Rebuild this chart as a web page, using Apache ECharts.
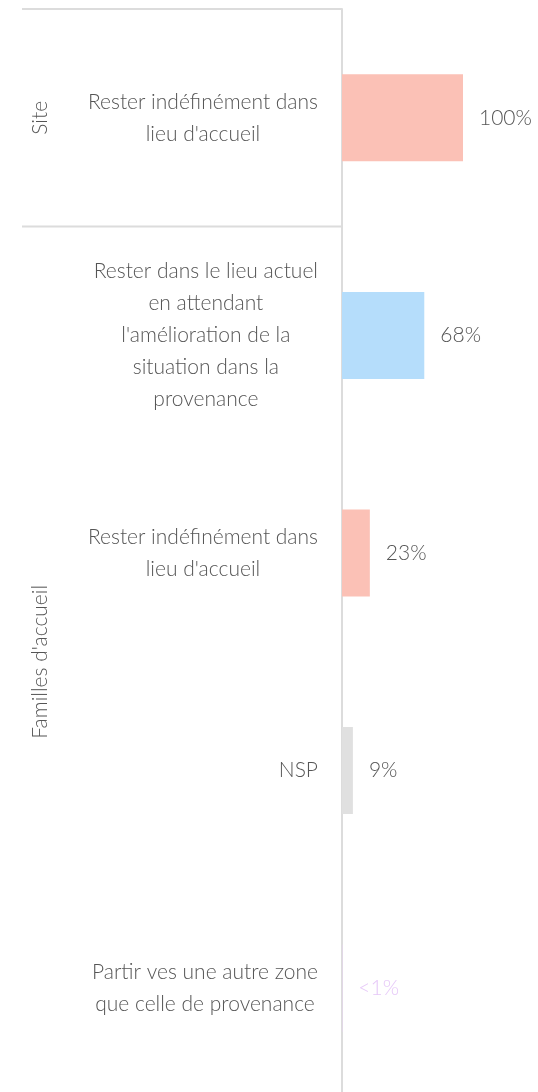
<!DOCTYPE html>
<html>
<head>
<meta charset="utf-8">
<script src="https://cdn.jsdelivr.net/npm/echarts@6/dist/echarts.min.js"></script>
<style>
  html, body { margin: 0; padding: 0; background: #fff; }
  #chart { width: 538px; height: 1092px; }
</style>
</head>
<body>
<div id="chart"></div>
<script>
// categories, top to bottom
const categories = [
  "Rester indéfinément dans\nlieu d'accueil",
  "Rester dans le lieu actuel\nen attendant\nl'amélioration de la\nsituation dans la\nprovenance",
  "Rester indéfinément dans\nlieu d'accueil",
  "NSP",
  "Partir ves une autre zone\nque celle de provenance"
];
const values = [100, 68, 23, 9, 0.3];
const valueLabels = ['100%', '68%', '23%', '9%', '<1%'];
const barColors = ['#fbc1b6', '#b5ddfb', '#fbc1b6', '#e0e0e0', '#ebd0fa'];
const labelColors = ['#555', '#555', '#555', '#555', '#e6c8f8'];
const groupNames = ['Site', "Familles d'accueil"];
const groupSizes = [1, 4];

const FONT = 'Lato';
const FS = 21;
const chart = echarts.init(document.getElementById('chart'));

chart.setOption({
  animation: false,
  backgroundColor: '#fff',
  grid: { left: 342, top: 9, width: 121, height: 1088, containLabel: false, outerBoundsMode: 'none' },
  xAxis: { type: 'value', min: 0, max: 100, show: false },
  yAxis: {
    type: 'category',
    inverse: true,
    data: categories,
    axisTick: { show: false },
    axisLine: { lineStyle: { color: '#dcdcdc', width: 2 } },
    axisLabel: {
      margin: 24,
      align: 'right',
      interval: 0,
      formatter: function (v) {
        return v.split('\n').map(function (l) { return '{c|' + l + '}'; }).join('\n');
      },
      rich: {
        c: { align: 'center', fontSize: FS, lineHeight: 32, color: '#555', fontFamily: FONT, fontWeight: 300 }
      }
    }
  },
  series: [{
    type: 'bar',
    barWidth: '40%',
    data: values.map(function (v, i) {
      return {
        value: v,
        itemStyle: { color: barColors[i] },
        label: { color: labelColors[i] }
      };
    }),
    label: {
      show: true,
      position: 'right',
      distance: 16,
      fontSize: FS,
      fontFamily: FONT,
      fontWeight: 300,
      formatter: function (p) { return valueLabels[p.dataIndex]; }
    }
  }]
});

// group labels and separators, placed from the category scale
const yOf = function (i) { return chart.convertToPixel({ yAxisIndex: 0 }, i); };
const step = yOf(1) - yOf(0);
const axisX = chart.convertToPixel({ xAxisIndex: 0 }, 0);
const graphics = [];
let start = 0;
groupNames.forEach(function (name, g) {
  const top = yOf(start) - step / 2;
  const bottom = yOf(start + groupSizes[g] - 1) + step / 2;
  graphics.push({
    type: 'line',
    shape: { x1: 22, y1: top, x2: axisX, y2: top },
    style: { stroke: '#dcdcdc', lineWidth: 2 }
  });
  graphics.push({
    type: 'text',
    x: 40,
    y: (top + bottom) / 2,
    rotation: Math.PI / 2,
    style: {
      text: name, fontSize: FS, fontFamily: FONT, fontWeight: 300, fill: '#555',
      align: 'center', verticalAlign: 'middle'
    }
  });
  start += groupSizes[g];
});
chart.setOption({ graphic: graphics });
</script>
</body>
</html>
